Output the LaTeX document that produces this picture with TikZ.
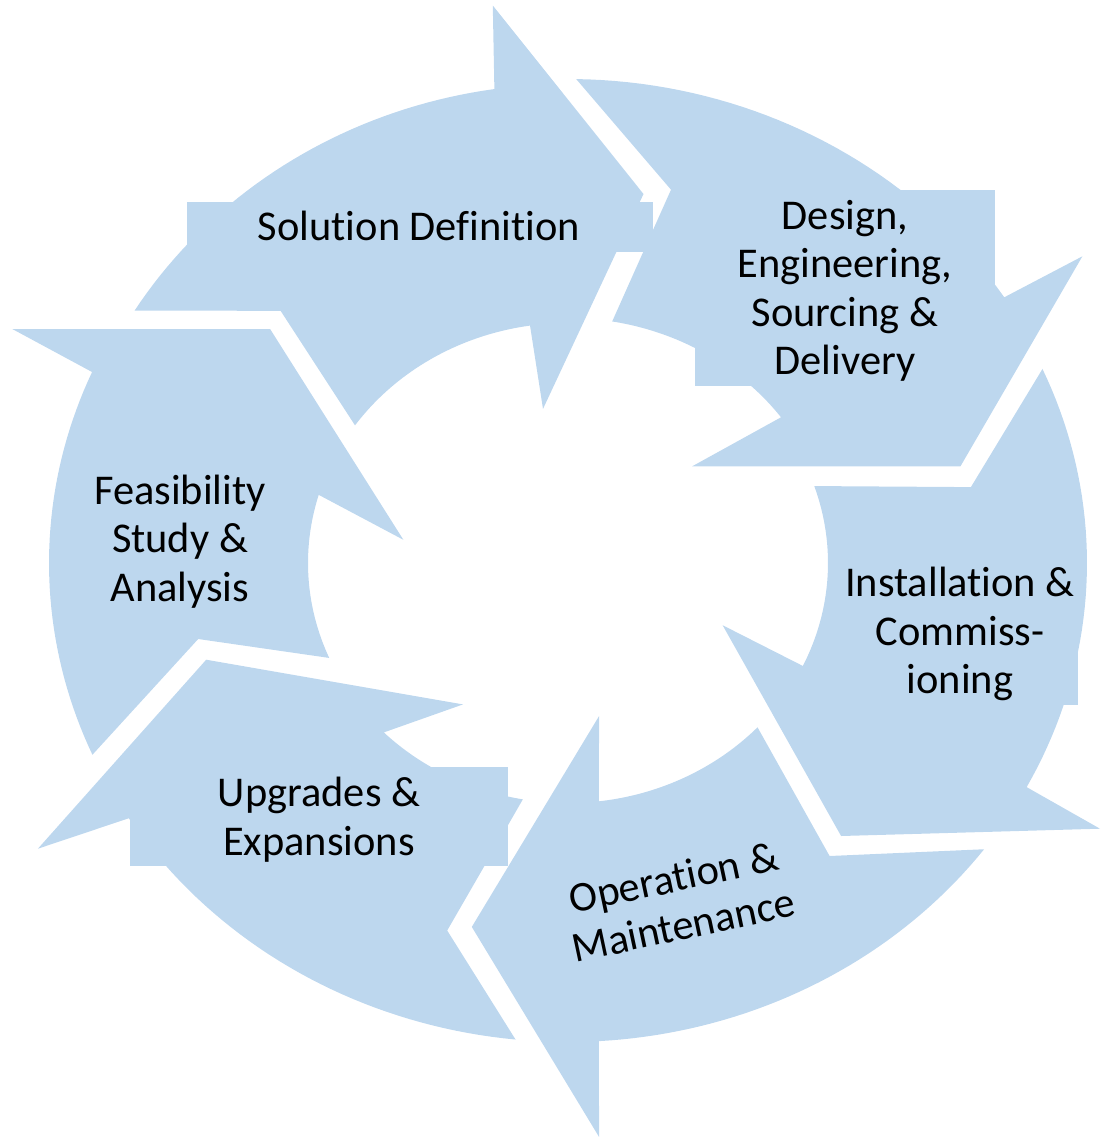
\documentclass[tikz,border=0pt]{standalone}
\usepackage{fontspec}
\setmainfont{Carlito}[Ligatures=NoCommon]
\definecolor{stageblue}{HTML}{BDD7EE}
\tikzset{
  stage/.style={fill=stageblue},
  stagetext/.style={font=\fontsize{21.2}{24.2}\selectfont, align=center, inner sep=0pt}
}
\begin{document}
\begin{tikzpicture}[x=0.5pt,y=-0.5pt]
  \useasboundingbox (0,0) rectangle (1100,1137);

  % Solution Definition
  \fill[stage] plot[domain=211.8:261.7,samples=40] ({568+510*cos(\x)},{563+479*sin(\x)})
    -- (492.8,5.5) -- (643.5,194) -- (543,408.9)
    -- plot[domain=261.6:215,samples=40] ({568+260*cos(\x)},{563+240*sin(\x)})
    -- (280.6,310.8) -- cycle;
  \fill[stage] (187,201.7) rectangle (652.8,251.5);

  % Design, Engineering, Sourcing & Delivery
  \fill[stage] plot[domain=270.9:326.7,samples=40] ({568+522*cos(\x)},{563+484*sin(\x)})
    -- (1082.4,256.3) -- (960.4,466.4) -- (692,466.4)
    -- plot[domain=323.5:279.6,samples=40] ({568+265*cos(\x)},{563+245*sin(\x)})
    -- (671,189.7) -- cycle;
  \fill[stage] (694.9,189.7) rectangle (995.4,386.4);

  % Installation & Commissioning
  \fill[stage] plot[domain=-23.9:27.9,samples=40] ({568+519*cos(\x)},{563+479*sin(\x)})
    -- (1100,828.7) -- (841.1,836) -- (722.6,625.2)
    -- plot[domain=25.4:-18.7,samples=40] ({568+260*cos(\x)},{563+240*sin(\x)})
    -- (970.9,487.1) -- cycle;
  \fill[stage] (842,490) rectangle (1078.3,705);

  % Operation & Maintenance
  \fill[stage] plot[domain=36.7:86.6,samples=40] ({568+519*cos(\x)},{563+479*sin(\x)})
    -- (599.1,1137) -- (471.8,926.9) -- (599.1,716)
    -- plot[domain=83.2:43.2,samples=40] ({568+260*cos(\x)},{563+240*sin(\x)})
    -- (829.6,856) -- cycle;

  % Upgrades & Expansions
  \fill[stage] plot[domain=95.8:147.8,samples=40] ({568+519*cos(\x)},{563+479*sin(\x)})
    -- (37.9,848.7) -- (206.2,659.7) -- (463,704.4)
    -- plot[domain=135.1:100,samples=40] ({568+260*cos(\x)},{563+240*sin(\x)})
    -- (447.2,930.5) -- cycle;
  \fill[stage] (129.8,766.9) rectangle (507.9,865.8);

  % Feasibility Study & Analysis
  \fill[stage] plot[domain=156.4:203.5,samples=40] ({568+519*cos(\x)},{563+479*sin(\x)})
    -- (12.3,329) -- (270.1,329) -- (403.4,539.8)
    -- plot[domain=196.5:156.7,samples=40] ({568+260*cos(\x)},{563+240*sin(\x)})
    -- (198.2,639) -- cycle;

  \node[stagetext, anchor=base] (sdText) at (419,240) {Solution Definition};
  \node[stagetext] (deText) at (845,291) {Design,\\Engineering,\\Sourcing \&\\Delivery};
  \node[stagetext] (icText) at (960,634) {Installation \&\\Commiss-\\ioning};
  \node[stagetext, rotate=12] (omText) at (678.6,901.3) {Operation \&\\Maintenance};
  \node[stagetext] (ueText) at (319,819.6) {Upgrades \&\\Expansions};
  \node[stagetext] (fsText) at (180,541.6) {Feasibility\\Study \&\\Analysis};
\end{tikzpicture}
\end{document}
